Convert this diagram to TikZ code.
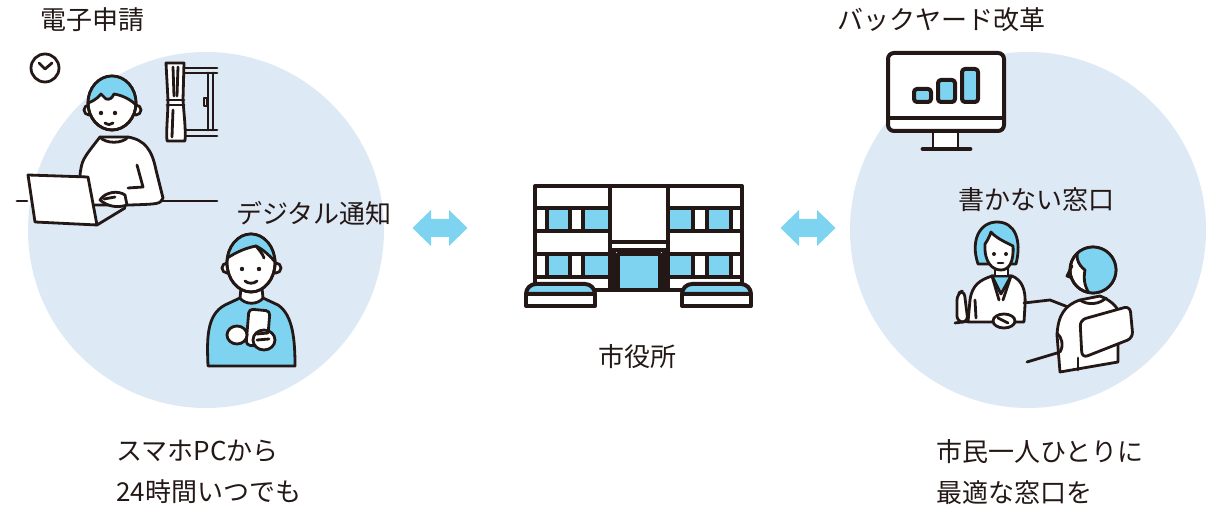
\documentclass[tikz,border=0pt]{standalone}
\usepackage{fontspec}
\setmainfont{Noto Sans CJK JP}
\definecolor{bubble}{HTML}{DDE9F5}
\definecolor{sky}{HTML}{7DD3F0}
\definecolor{inkc}{HTML}{231815}
\tikzset{
  ink/.style={draw=inkc, line width=1.4pt, line join=round, line cap=round},
  panel/.style={circle, fill=bubble, minimum size=178pt, inner sep=0pt},
  caption/.style={font=\fontsize{13pt}{20.5pt}\selectfont, text=inkc, inner sep=0pt, anchor=west, align=left},
  swap arrow/.pic={
    \fill[sky] (-27.5,0) -- (-9,-18) -- (-9,-9) -- (9,-9) -- (9,-18) -- (27.5,0)
      -- (9,18) -- (9,9) -- (-9,9) -- (-9,18) -- cycle;
  }
}

\begin{document}
\begin{tikzpicture}[x=0.5pt, y=-0.5pt]
  \useasboundingbox (0,0) rectangle (1216,506);

  % round panels
  \node[panel] (online) at (206,230) {};
  \node[panel] (counter) at (1028,230) {};

  % texts
  \node[caption] (shinsei) at (40,20) {電子申請};
  \node[caption] (tsuchi) at (236,213) {デジタル通知};
  \node[caption] (anytime) at (116,472) {スマホPCから\\24時間いつでも};
  \node[caption] (backyard) at (837,20) {バックヤード改革};
  \node[caption] (kakanai) at (958,200) {書かない窓口};
  \node[caption] (saiteki) at (936,472) {市民一人ひとりに\\最適な窓口を};
  \node[caption, anchor=center] (shiyakusho) at (637,357) {市役所};

  % two-way arrows
  \pic (toleft) at (440,228) {swap arrow};
  \pic (toright) at (808,228) {swap arrow};

  % clock
  \draw[ink] (45,68) circle (14);
  \draw[ink] (39,63) -- (45,69) -- (52,63);

  % window and curtain
  \draw[ink] (185,68) -- (217,68);
  \draw[ink] (185,73) -- (217,73);
  \draw[ink] (208,73) -- (208,130);
  \draw[ink] (213,73) -- (213,130);
  \draw[ink] (185,130) -- (217,130);
  \draw[ink] (185,136) -- (217,136);
  \draw[ink] (204,98) rectangle (207,106);
  \filldraw[ink, fill=white] (166,63) -- (184,63) -- (183,100)
    .. controls (184,115) and (186,130) .. (185,141) -- (167,141)
    .. controls (166,130) and (168,115) .. (168,100) -- cycle;
  \draw[ink] (167,100) -- (184,100);
  \draw[ink] (167,105) -- (184,105);
  \draw[ink] (173,67) -- (174,96);
  \draw[ink] (178,67) -- (177,96);
  \draw[ink] (173,110) -- (172,137);

  % desk
  \draw[ink] (17,201) -- (27,201);
  \draw[ink] (162,201) -- (217,201);

  % man at the laptop
  \filldraw[ink, fill=white] (100,137) -- (128,137)
    .. controls (145,140) and (152,150) .. (156,170) -- (163,198)
    .. controls (160,204) .. (130,205) -- (90,205) -- (80,175)
    .. controls (82,160) .. (100,137) -- cycle;
  \draw[ink] (137,165) -- (143,187) -- (128,188);
  \draw[ink] (100,137) .. controls (105,144) and (123,144) .. (128,137);
  \filldraw[ink, fill=white] (89,110) circle (5);
  \filldraw[ink, fill=white] (136,110) circle (5);
  \filldraw[ink, fill=white] (112,103) ellipse (24 and 27);
  \begin{scope}
    \clip (112,103) ellipse (24 and 27);
    \fill[sky] (85,70) -- (141,70) -- (141,110)
      .. controls (134,102) and (126,96) .. (114,94)
      .. controls (112,98) and (110,100) .. (106,99)
      .. controls (104,97) and (102,95) .. (101,94)
      .. controls (97,99) and (92,102) .. (85,104) -- cycle;
    \draw[ink] (141,110) .. controls (134,102) and (126,96) .. (114,94)
      .. controls (112,98) and (110,100) .. (106,99)
      .. controls (104,97) and (102,95) .. (101,94)
      .. controls (97,99) and (92,102) .. (85,104);
  \end{scope}
  \draw[ink] (112,103) ellipse (24 and 27);
  \fill[inkc] (101,113) circle (2.2) (115,113) circle (2.2);
  \draw[ink] (105,123) .. controls (108,125) and (111,125) .. (113,123);
  \filldraw[ink, fill=white] (100,200) .. controls (105,192) and (118,190) .. (125,195)
    -- (127,205) .. controls (118,208) and (108,207) .. (100,200) -- cycle;
  \draw[ink] (104,199) -- (115,197);
  \filldraw[ink, fill=white] (28,175) -- (88,177) -- (97,225) -- (35,222) -- cycle;
  \draw[ink] (97,225) -- (125,208);

  % senior with a smartphone
  \filldraw[ink, fill=sky] (208,366) .. controls (207,340) and (206,315) .. (225,305)
    -- (240,298) -- (263,298) -- (278,305)
    .. controls (293,315) and (295,340) .. (295,366) -- cycle;
  \filldraw[ink, fill=white] (240,298) .. controls (245,305) and (258,305) .. (263,298)
    -- (262,288) -- (241,288) -- cycle;
  \filldraw[ink, fill=white] (227,268) circle (5);
  \filldraw[ink, fill=white] (276,268) circle (5);
  \filldraw[ink, fill=white] (251,263) ellipse (24 and 29);
  \begin{scope}
    \clip (251,263) ellipse (24 and 29);
    \fill[sky] (225,230) -- (277,230) -- (277,264)
      .. controls (270,256) and (264,250) .. (256,246)
      .. controls (246,248) and (236,252) .. (226,259) -- cycle;
    \draw[ink] (277,264) .. controls (270,256) and (264,250) .. (256,246)
      .. controls (246,248) and (236,252) .. (226,259);
    \draw[ink] (256,246) .. controls (259,250) and (263,254) .. (264,258);
  \end{scope}
  \draw[ink] (251,263) ellipse (24 and 29);
  \fill[inkc] (242,269) circle (2.2) (259,269) circle (2.2);
  \draw[ink] (245,281) .. controls (248,284) and (254,284) .. (257,281);
  \filldraw[ink, fill=white, rounded corners=2] (249,309) -- (270,311) -- (267,347) -- (246,345) -- cycle;
  \filldraw[ink, fill=white] (237,335) ellipse (10 and 9);
  \filldraw[ink, fill=white] (264,340) ellipse (11 and 10);
  \draw[ink] (257,334) -- (268,333);
  \draw[ink] (257,340) -- (269,339);

  % city hall
  \filldraw[ink, line width=2pt, fill=white] (535,186) rectangle (742,290);
  \foreach \y in {208,254} {
    \draw[ink, line width=2pt] (535,\y) -- (610,\y) (668,\y) -- (742,\y);
    \draw[ink, line width=2pt] (535,\y+23) -- (610,\y+23) (668,\y+23) -- (742,\y+23);
    \filldraw[ink, line width=2pt, fill=sky] (547,\y) rectangle (570,\y+23);
    \filldraw[ink, line width=2pt, fill=sky] (583,\y) rectangle (610,\y+23);
    \filldraw[ink, line width=2pt, fill=sky] (668,\y) rectangle (693,\y+23);
    \filldraw[ink, line width=2pt, fill=sky] (707,\y) rectangle (731,\y+23);
  }
  \draw[ink, line width=2pt] (610,186) -- (610,290);
  \draw[ink, line width=2pt] (668,186) -- (668,290);
  \draw[ink, line width=1.6pt] (610,242) -- (668,242);
  \draw[ink, line width=1.6pt] (610,250) -- (668,250);
  \draw[ink, line width=1.6pt] (614,250) -- (614,290);
  \draw[ink, line width=1.6pt] (664,250) -- (664,290);
  \filldraw[ink, line width=2pt, fill=sky] (618,254) rectangle (660,290);
  \foreach \x in {526,682} {
    \filldraw[ink, line width=2pt, fill=white] (\x,294) rectangle (\x+69,306);
    \filldraw[ink, line width=2pt, fill=sky] (\x,294) [rounded corners=5] -- (\x,284) -- (\x+69,284)
      [sharp corners] -- (\x+69,294) -- cycle;
  }

  % monitor with bar chart
  \filldraw[ink, fill=white] (933,131) rectangle (958,148);
  \draw[ink, line width=2.4pt] (923,149) -- (970,149);
  \filldraw[ink, fill=white, line width=2pt, rounded corners=3] (888,53) rectangle (1004,131);
  \draw[ink, line width=2pt] (888,118) -- (1004,118);
  \filldraw[ink, fill=sky, line width=2pt, rounded corners=1.5] (914,89) rectangle (931,102);
  \filldraw[ink, fill=sky, line width=2pt, rounded corners=1.5] (938,80) rectangle (955,102);
  \filldraw[ink, fill=sky, line width=2pt, rounded corners=1.5] (962,69) rectangle (978,102);

  % staff member behind the counter
  \filldraw[ink, fill=white, rounded corners=3] (957,294) -- (964,290) -- (968,322) -- (957,322) -- cycle;
  \draw[ink] (955,323) -- (970,321);
  \filldraw[ink, fill=sky] (978,264) .. controls (970,240) and (980,222) .. (997,222)
    .. controls (1015,222) and (1022,240) .. (1016,264) -- cycle;
  \filldraw[ink, fill=white] (968,322) -- (970,300) .. controls (972,285) and (980,280) .. (992,276)
    -- (1012,276) .. controls (1022,280) and (1026,290) .. (1025,305) -- (1024,322) -- cycle;
  \filldraw[ink, fill=sky] (992,276) -- (1001,294) -- (1011,276) -- cycle;
  \draw[ink] (992,276) -- (999,300);
  \draw[ink] (1011,276) -- (1003,300);
  \draw[ink] (975,300) -- (976,318);
  \filldraw[ink, fill=white] (995,262) -- (995,276) -- (1008,276) -- (1008,262) -- cycle;
  \filldraw[ink, fill=white] (985,244) .. controls (984,262) and (992,270) .. (1001,270)
    .. controls (1009,270) and (1014,262) .. (1013,246)
    .. controls (1005,242) and (996,238) .. (991,232) .. controls (989,238) and (987,241) .. (985,244) -- cycle;
  \fill[inkc] (994,254) circle (2) (1006,254) circle (2);
  \draw[ink] (998,263) -- (1003,263);
  \filldraw[ink, fill=white] (1004,321) ellipse (11 and 7);
  \draw[ink] (998,318) -- (1008,323);
  \draw[ink] (1024,303) -- (1050,300) -- (1068,307);

  % citizen seen from behind
  \filldraw[ink, fill=white] (1060,372) -- (1057,335) .. controls (1058,315) and (1065,305) .. (1080,300)
    -- (1100,296) .. controls (1110,300) and (1115,305) .. (1118,310) -- (1118,362) -- cycle;
  \filldraw[ink, fill=white] (1093,270) circle (23);
  \begin{scope}
    \clip (1093,270) circle (23);
    \fill[sky] (1080,246) .. controls (1074,256) and (1078,265) .. (1085,270)
      .. controls (1083,280) and (1085,288) .. (1091,296) -- (1120,296) -- (1120,244) -- cycle;
    \draw[ink] (1080,246) .. controls (1074,256) and (1078,265) .. (1085,270)
      .. controls (1083,280) and (1085,288) .. (1091,296);
  \end{scope}
  \draw[ink] (1093,270) circle (23);
  \draw[ink] (1072,266) -- (1067,276) -- (1072,278);
  \draw[ink] (1080,300) .. controls (1088,306) and (1100,304) .. (1106,298);
  \draw[ink] (1057,333) .. controls (1062,338) and (1064,345) .. (1060,352);
  \filldraw[ink, fill=white, rounded corners=3] (1080,320) -- (1130,306) -- (1133,338)
    -- (1082,358) -- cycle;
  \draw[ink] (1078,358) -- (1078,370);
  \draw[ink] (1027,362) -- (1057,353);
\end{tikzpicture}
\end{document}
